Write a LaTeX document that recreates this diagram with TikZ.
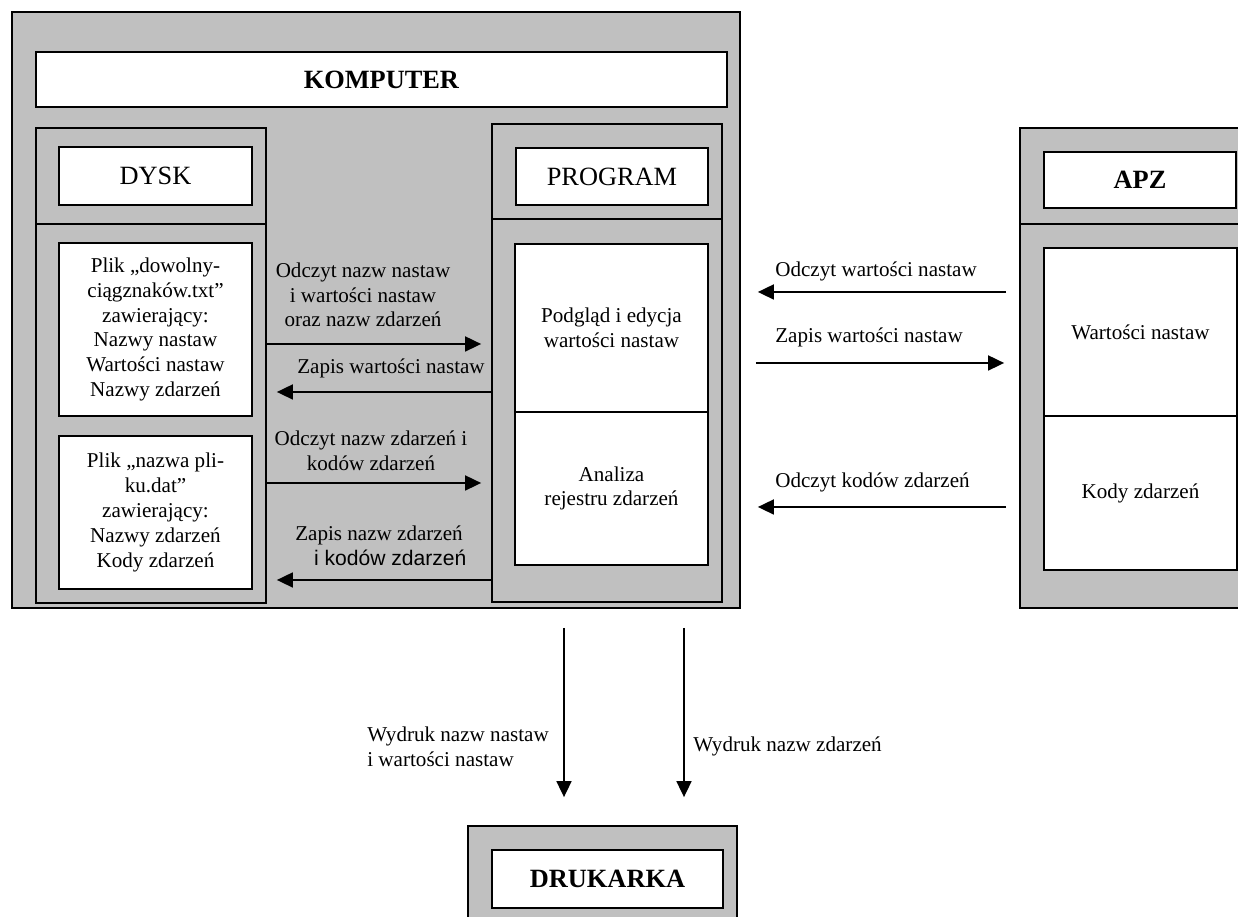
\documentclass[tikz,border=0pt]{standalone}
\usepackage{fontspec}
\setmainfont{Liberation Serif}
\newfontfamily\arialfont{Liberation Sans}
\usepackage{tikz}
\usetikzlibrary{positioning,calc,arrows.meta}
\definecolor{boxgray}{HTML}{C0C0C0}

\begin{document}
\begin{tikzpicture}[
    every node/.append style={font=\fontsize{12}{14.1}\selectfont},
    outer/.style={rectangle, draw, fill=boxgray, line width=1pt, inner sep=0pt},
    whitebox/.style={rectangle, draw, fill=white, line width=1pt, inner sep=0pt, align=center},
    head/.style={font=\fontsize{15}{18}\selectfont},
    txt/.style={inner sep=0pt, align=center},
    arrow/.style={line width=1pt, -{Triangle[length=0.32cm,width=0.3cm]}}
]
    \useasboundingbox (0,0) rectangle (24.76,18.34);
    \clip (0,0) rectangle (24.76,18.34);

    \node[outer, minimum width=14.56cm, minimum height=11.92cm] (komp) at (7.52,12.14) {};
    \node[whitebox, head, minimum width=13.82cm, minimum height=1.10cm] (kompt) at (7.63,16.75) {\textbf{KOMPUTER}};

    \node[outer, minimum width=4.60cm, minimum height=1.92cm] (dyskhead) at (3.02,14.82) {};
    \node[outer, minimum width=4.60cm, minimum height=7.58cm] (dysk) at (3.02,10.07) {};
    \node[whitebox, head, minimum width=3.86cm, minimum height=1.16cm] (dyskt) at (3.11,14.82) {DYSK};
    \node[whitebox, minimum width=3.86cm, minimum height=3.46cm] (plik1) at (3.11,11.75) {Plik „dowolny-\\ciągznaków.txt”\\zawierający:\\Nazwy nastaw\\Wartości nastaw\\Nazwy zdarzeń};
    \node[whitebox, minimum width=3.86cm, minimum height=3.06cm] (plik2) at (3.11,8.09) {Plik „nazwa pli-\\ku.dat”\\zawierający:\\Nazwy zdarzeń\\Kody zdarzeń};

    \node[outer, minimum width=4.60cm, minimum height=1.90cm] (proghead) at (12.14,14.91) {};
    \node[outer, minimum width=4.60cm, minimum height=7.66cm] (prog) at (12.14,10.13) {};
    \node[whitebox, head, minimum width=3.84cm, minimum height=1.14cm] (progt) at (12.24,14.81) {PROGRAM};
    \node[whitebox, minimum width=3.86cm, minimum height=3.36cm] (podglad) at (12.23,11.78) {Podgląd i edycja\\wartości nastaw};
    \node[whitebox, minimum width=3.86cm, minimum height=3.06cm] (analiza) at (12.23,8.57) {Analiza\\rejestru zdarzeń};

    \node[outer, minimum width=4.84cm, minimum height=1.92cm] (apzhead) at (22.82,14.82) {};
    \node[outer, minimum width=4.84cm, minimum height=7.68cm] (apz) at (22.82,10.02) {};
    \node[whitebox, head, minimum width=3.84cm, minimum height=1.12cm] (apzt) at (22.80,14.74) {\textbf{APZ}};
    \node[whitebox, minimum width=3.86cm, minimum height=3.36cm] (wartosci) at (22.81,11.70) {Wartości nastaw};
    \node[whitebox, minimum width=3.86cm, minimum height=3.08cm] (kody) at (22.81,8.48) {Kody zdarzeń};

    \node[outer, minimum width=5.38cm, minimum height=2.38cm] (druk) at (12.05,0.63) {};
    \node[whitebox, head, minimum width=4.62cm, minimum height=1.16cm] (drukt) at (12.15,0.76) {\textbf{DRUKARKA}};

    \draw[arrow, shorten >=0.2cm] (dysk.east |- 0,11.46) -- (prog.west |- 0,11.46);
    \draw[arrow, shorten >=0.2cm] (prog.west |- 0,10.50) -- (dysk.east |- 0,10.50);
    \draw[arrow, shorten >=0.2cm] (dysk.east |- 0,8.68) -- (prog.west |- 0,8.68);
    \draw[arrow, shorten >=0.2cm] (prog.west |- 0,6.74) -- (dysk.east |- 0,6.74);

    \draw[arrow, shorten <=0.26cm, shorten >=0.34cm] (apz.west |- 0,12.50) -- (komp.east |- 0,12.50);
    \draw[arrow, shorten <=0.30cm, shorten >=0.30cm] (komp.east |- 0,11.08) -- (apz.west |- 0,11.08);
    \draw[arrow, shorten <=0.26cm, shorten >=0.34cm] (apz.west |- 0,8.20) -- (komp.east |- 0,8.20);

    \draw[arrow, shorten <=0.38cm, shorten >=0.56cm] (komp.south -| 11.28,0) -- (druk.north -| 11.28,0);
    \draw[arrow, shorten <=0.38cm, shorten >=0.56cm] (komp.south -| 13.68,0) -- (druk.north -| 13.68,0);

    \node[txt] (odczyt1) at (7.26,12.44) {Odczyt nazw nastaw\\i wartości nastaw\\oraz nazw zdarzeń};
    \node[txt, anchor=base] (zapis1) at (7.82,10.86) {Zapis wartości nastaw};
    \node[txt] (odczyt2) at (7.42,9.33) {Odczyt nazw zdarzeń i\\kodów zdarzeń};
    \node[txt] (zapis2) at (7.58,7.42) {Zapis nazw zdarzeń\\\hspace*{0.45cm}{\arialfont i kodów zdarzeń}};

    \node[txt, anchor=base west] (odczyt3) at (15.50,12.80) {Odczyt wartości nastaw};
    \node[txt, anchor=base west] (zapis3) at (15.50,11.48) {Zapis wartości nastaw};
    \node[txt, anchor=base west] (odczyt4) at (15.50,8.58) {Odczyt kodów zdarzeń};

    \node[txt, anchor=west, align=left] (wydruk1) at (7.34,3.40) {Wydruk nazw nastaw\\i wartości nastaw};
    \node[txt, anchor=base west] (wydruk2) at (13.86,3.30) {Wydruk nazw zdarzeń};
\end{tikzpicture}
\end{document}
